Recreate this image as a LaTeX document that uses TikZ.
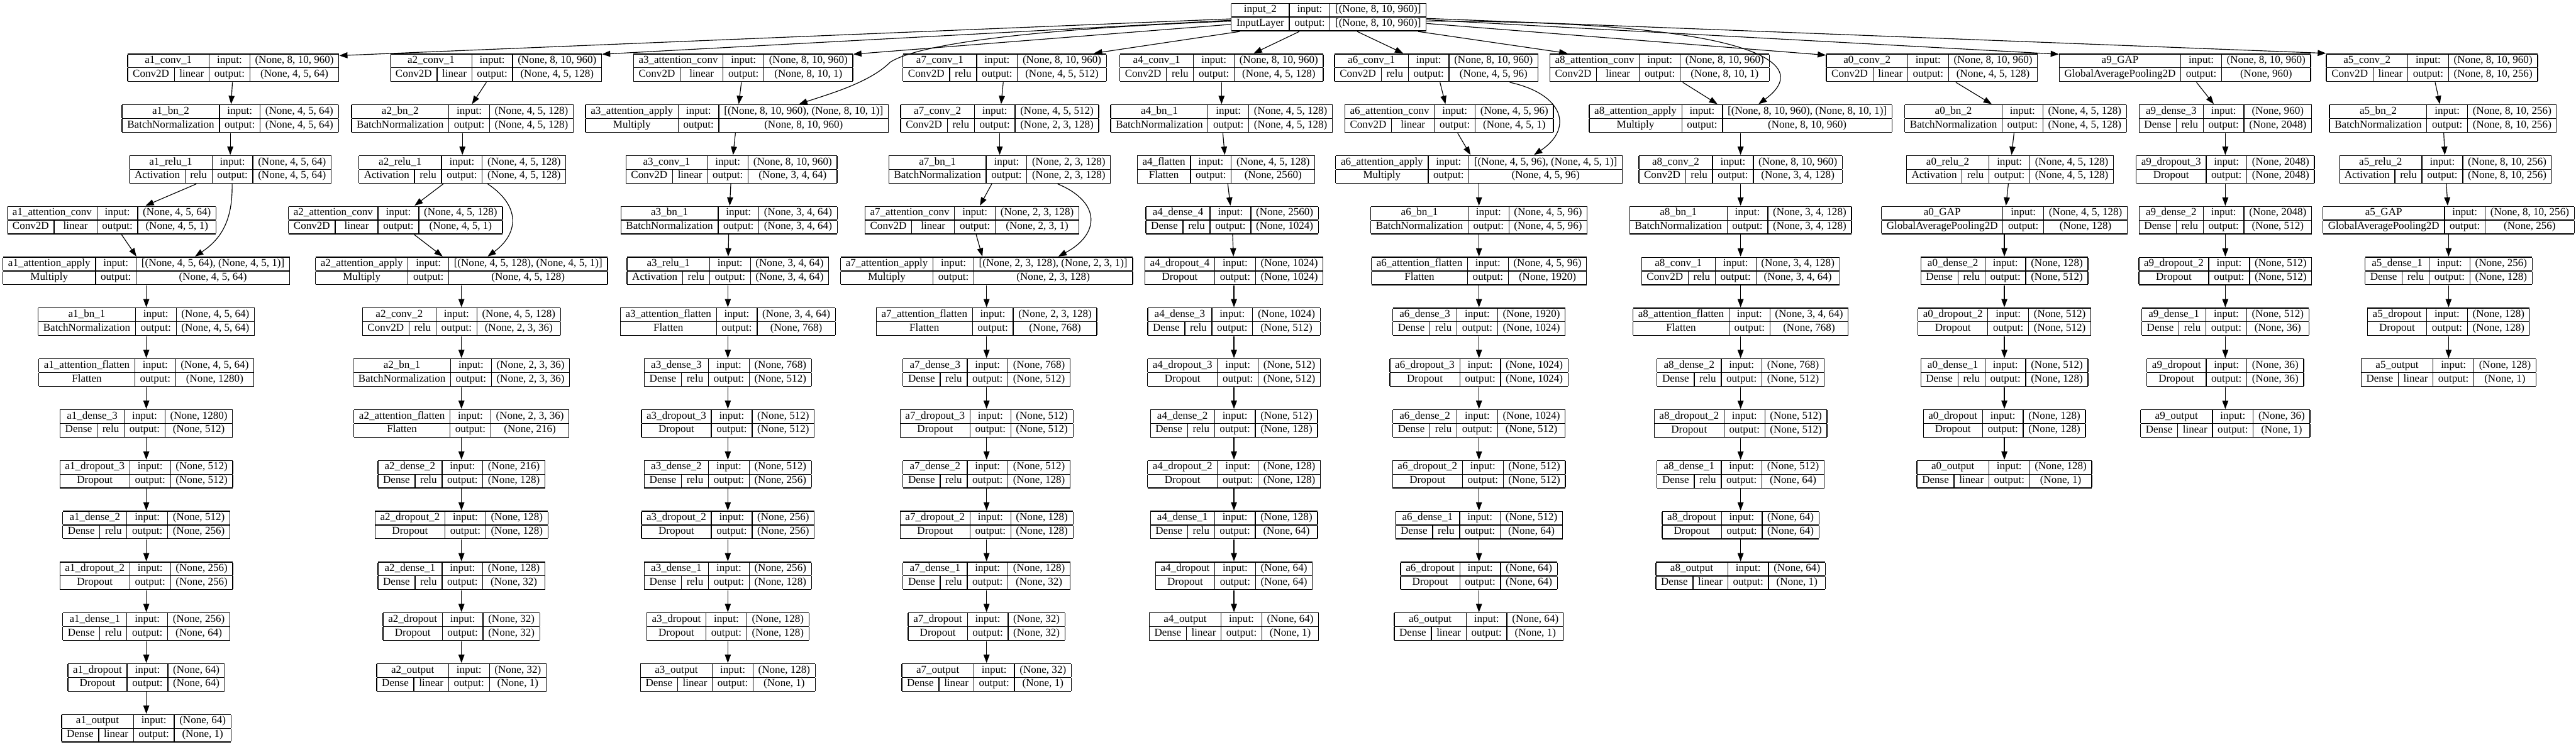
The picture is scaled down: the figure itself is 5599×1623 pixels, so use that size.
\documentclass[tikz,border=0pt]{standalone}
\usepackage{fontspec}
\setmainfont{Liberation Serif}
\usetikzlibrary{positioning,arrows.meta,calc}

\setlength{\tabcolsep}{3.2pt}
\setlength{\arrayrulewidth}{0.5pt}
\renewcommand{\arraystretch}{0}
\newcommand{\rowstrut}{\rule[-2.6pt]{0pt}{8pt}}
% layer with an activation cell
\newcommand{\actlayer}[5]{%
  \begin{tabular}{|c|c|c|c|}\hline
  \multicolumn{2}{|c|}{\rowstrut#1} & input: & #4\\\hline
  \rowstrut#2 & #3 & output: & #5\\\hline
  \end{tabular}}
% layer without activation
\newcommand{\plainlayer}[4]{%
  \begin{tabular}{|c|c|c|}\hline
  \rowstrut#1 & input: & #3\\\hline
  \rowstrut#2 & output: & #4\\\hline
  \end{tabular}}

\begin{document}
\begin{tikzpicture}[
  x=0.01cm, y=0.01cm,
  node distance=1.104cm,
  every node/.style={inner sep=0pt, font=\fontsize{6.63pt}{8pt}\selectfont},
  every path/.style={line width=0.45pt, -{Triangle[length=5.1pt, width=3.7pt]}}
]
\useasboundingbox (0,0) rectangle (5599,-1623);

\node (input2) at (2888,-37) {\plainlayer{input\_2}{InputLayer}{[(None, 8, 10, 960)]}{[(None, 8, 10, 960)]}};

% a1
\node (a1conv1) at (507,-147.4) {\actlayer{a1\_conv\_1}{Conv2D}{linear}{(None, 8, 10, 960)}{(None, 4, 5, 64)}};
\node (a1bn2) at (500.5,-257.8) {\plainlayer{a1\_bn\_2}{BatchNormalization}{(None, 4, 5, 64)}{(None, 4, 5, 64)}};
\node (a1relu1) [below of=a1bn2] {\actlayer{a1\_relu\_1}{Activation}{relu}{(None, 4, 5, 64)}{(None, 4, 5, 64)}};
\node (a1attconv) at (242.8,-478.6) {\actlayer{a1\_attention\_conv}{Conv2D}{linear}{(None, 4, 5, 64)}{(None, 4, 5, 1)}};
\node (a1attapply) at (318,-589) {\plainlayer{a1\_attention\_apply}{Multiply}{[(None, 4, 5, 64), (None, 4, 5, 1)]}{(None, 4, 5, 64)}};
\node (a1bn1) [below of=a1attapply] {\plainlayer{a1\_bn\_1}{BatchNormalization}{(None, 4, 5, 64)}{(None, 4, 5, 64)}};
\node (a1attflatten) [below of=a1bn1] {\plainlayer{a1\_attention\_flatten}{Flatten}{(None, 4, 5, 64)}{(None, 1280)}};
\node (a1dense3) [below of=a1attflatten] {\actlayer{a1\_dense\_3}{Dense}{relu}{(None, 1280)}{(None, 512)}};
\node (a1dropout3) [below of=a1dense3] {\plainlayer{a1\_dropout\_3}{Dropout}{(None, 512)}{(None, 512)}};
\node (a1dense2) [below of=a1dropout3] {\actlayer{a1\_dense\_2}{Dense}{relu}{(None, 512)}{(None, 256)}};
\node (a1dropout2) [below of=a1dense2] {\plainlayer{a1\_dropout\_2}{Dropout}{(None, 256)}{(None, 256)}};
\node (a1dense1) [below of=a1dropout2] {\actlayer{a1\_dense\_1}{Dense}{relu}{(None, 256)}{(None, 64)}};
\node (a1dropout) [below of=a1dense1] {\plainlayer{a1\_dropout}{Dropout}{(None, 64)}{(None, 64)}};
\node (a1output) [below of=a1dropout] {\actlayer{a1\_output}{Dense}{linear}{(None, 64)}{(None, 1)}};

% a2
\node (a2conv1) at (1078,-147.4) {\actlayer{a2\_conv\_1}{Conv2D}{linear}{(None, 8, 10, 960)}{(None, 4, 5, 128)}};
\node (a2bn2) at (1005,-257.8) {\plainlayer{a2\_bn\_2}{BatchNormalization}{(None, 4, 5, 128)}{(None, 4, 5, 128)}};
\node (a2relu1) [below of=a2bn2] {\actlayer{a2\_relu\_1}{Activation}{relu}{(None, 4, 5, 128)}{(None, 4, 5, 128)}};
\node (a2attconv) at (859.5,-478.6) {\actlayer{a2\_attention\_conv}{Conv2D}{linear}{(None, 4, 5, 128)}{(None, 4, 5, 1)}};
\node (a2attapply) at (1003,-589) {\plainlayer{a2\_attention\_apply}{Multiply}{[(None, 4, 5, 128), (None, 4, 5, 1)]}{(None, 4, 5, 128)}};
\node (a2conv2) [below of=a2attapply] {\actlayer{a2\_conv\_2}{Conv2D}{relu}{(None, 4, 5, 128)}{(None, 2, 3, 36)}};
\node (a2bn1) [below of=a2conv2] {\plainlayer{a2\_bn\_1}{BatchNormalization}{(None, 2, 3, 36)}{(None, 2, 3, 36)}};
\node (a2attflatten) [below of=a2bn1] {\plainlayer{a2\_attention\_flatten}{Flatten}{(None, 2, 3, 36)}{(None, 216)}};
\node (a2dense2) [below of=a2attflatten] {\actlayer{a2\_dense\_2}{Dense}{relu}{(None, 216)}{(None, 128)}};
\node (a2dropout2) [below of=a2dense2] {\plainlayer{a2\_dropout\_2}{Dropout}{(None, 128)}{(None, 128)}};
\node (a2dense1) [below of=a2dropout2] {\actlayer{a2\_dense\_1}{Dense}{relu}{(None, 128)}{(None, 32)}};
\node (a2dropout) [below of=a2dense1] {\plainlayer{a2\_dropout}{Dropout}{(None, 32)}{(None, 32)}};
\node (a2output) [below of=a2dropout] {\actlayer{a2\_output}{Dense}{linear}{(None, 32)}{(None, 1)}};

% a3
\node (a3attconv) at (1615.3,-147.4) {\actlayer{a3\_attention\_conv}{Conv2D}{linear}{(None, 8, 10, 960)}{(None, 8, 10, 1)}};
\node (a3attapply) at (1601.8,-257.8) {\plainlayer{a3\_attention\_apply}{Multiply}{[(None, 8, 10, 960), (None, 8, 10, 1)]}{(None, 8, 10, 960)}};
\node (a3conv1) at (1590,-368.2) {\actlayer{a3\_conv\_1}{Conv2D}{linear}{(None, 8, 10, 960)}{(None, 3, 4, 64)}};
\node (a3bn1) at (1584.5,-478.6) {\plainlayer{a3\_bn\_1}{BatchNormalization}{(None, 3, 4, 64)}{(None, 3, 4, 64)}};
\node (a3relu1) at (1582,-589) {\actlayer{a3\_relu\_1}{Activation}{relu}{(None, 3, 4, 64)}{(None, 3, 4, 64)}};
\node (a3attflatten) [below of=a3relu1] {\plainlayer{a3\_attention\_flatten}{Flatten}{(None, 3, 4, 64)}{(None, 768)}};
\node (a3dense3) [below of=a3attflatten] {\actlayer{a3\_dense\_3}{Dense}{relu}{(None, 768)}{(None, 512)}};
\node (a3dropout3) [below of=a3dense3] {\plainlayer{a3\_dropout\_3}{Dropout}{(None, 512)}{(None, 512)}};
\node (a3dense2) [below of=a3dropout3] {\actlayer{a3\_dense\_2}{Dense}{relu}{(None, 512)}{(None, 256)}};
\node (a3dropout2) [below of=a3dense2] {\plainlayer{a3\_dropout\_2}{Dropout}{(None, 256)}{(None, 256)}};
\node (a3dense1) [below of=a3dropout2] {\actlayer{a3\_dense\_1}{Dense}{relu}{(None, 256)}{(None, 128)}};
\node (a3dropout) [below of=a3dense1] {\plainlayer{a3\_dropout}{Dropout}{(None, 128)}{(None, 128)}};
\node (a3output) [below of=a3dropout] {\actlayer{a3\_output}{Dense}{linear}{(None, 128)}{(None, 1)}};

% a7
\node (a7conv1) at (2183.7,-147.4) {\actlayer{a7\_conv\_1}{Conv2D}{relu}{(None, 8, 10, 960)}{(None, 4, 5, 512)}};
\node (a7conv2) at (2172.8,-257.8) {\actlayer{a7\_conv\_2}{Conv2D}{relu}{(None, 4, 5, 512)}{(None, 2, 3, 128)}};
\node (a7bn1) [below of=a7conv2] {\plainlayer{a7\_bn\_1}{BatchNormalization}{(None, 2, 3, 128)}{(None, 2, 3, 128)}};
\node (a7attconv) at (2112.6,-478.6) {\actlayer{a7\_attention\_conv}{Conv2D}{linear}{(None, 2, 3, 128)}{(None, 2, 3, 1)}};
\node (a7attapply) at (2144.3,-589) {\plainlayer{a7\_attention\_apply}{Multiply}{[(None, 2, 3, 128), (None, 2, 3, 1)]}{(None, 2, 3, 128)}};
\node (a7attflatten) [below of=a7attapply] {\plainlayer{a7\_attention\_flatten}{Flatten}{(None, 2, 3, 128)}{(None, 768)}};
\node (a7dense3) [below of=a7attflatten] {\actlayer{a7\_dense\_3}{Dense}{relu}{(None, 768)}{(None, 512)}};
\node (a7dropout3) [below of=a7dense3] {\plainlayer{a7\_dropout\_3}{Dropout}{(None, 512)}{(None, 512)}};
\node (a7dense2) [below of=a7dropout3] {\actlayer{a7\_dense\_2}{Dense}{relu}{(None, 512)}{(None, 128)}};
\node (a7dropout2) [below of=a7dense2] {\plainlayer{a7\_dropout\_2}{Dropout}{(None, 128)}{(None, 128)}};
\node (a7dense1) [below of=a7dropout2] {\actlayer{a7\_dense\_1}{Dense}{relu}{(None, 128)}{(None, 32)}};
\node (a7dropout) [below of=a7dense1] {\plainlayer{a7\_dropout}{Dropout}{(None, 32)}{(None, 32)}};
\node (a7output) [below of=a7dropout] {\actlayer{a7\_output}{Dense}{linear}{(None, 32)}{(None, 1)}};

% a4
\node (a4conv1) at (2655,-147.4) {\actlayer{a4\_conv\_1}{Conv2D}{relu}{(None, 8, 10, 960)}{(None, 4, 5, 128)}};
\node (a4bn1) [below of=a4conv1] {\plainlayer{a4\_bn\_1}{BatchNormalization}{(None, 4, 5, 128)}{(None, 4, 5, 128)}};
\node (a4flatten) at (2664.9,-368.2) {\plainlayer{a4\_flatten}{Flatten}{(None, 4, 5, 128)}{(None, 2560)}};
\node (a4dense4) at (2678,-478.6) {\actlayer{a4\_dense\_4}{Dense}{relu}{(None, 2560)}{(None, 1024)}};
\node (a4dropout4) at (2682,-589) {\plainlayer{a4\_dropout\_4}{Dropout}{(None, 1024)}{(None, 1024)}};
\node (a4dense3) [below of=a4dropout4] {\actlayer{a4\_dense\_3}{Dense}{relu}{(None, 1024)}{(None, 512)}};
\node (a4dropout3) [below of=a4dense3] {\plainlayer{a4\_dropout\_3}{Dropout}{(None, 512)}{(None, 512)}};
\node (a4dense2) [below of=a4dropout3] {\actlayer{a4\_dense\_2}{Dense}{relu}{(None, 512)}{(None, 128)}};
\node (a4dropout2) [below of=a4dense2] {\plainlayer{a4\_dropout\_2}{Dropout}{(None, 128)}{(None, 128)}};
\node (a4dense1) [below of=a4dropout2] {\actlayer{a4\_dense\_1}{Dense}{relu}{(None, 128)}{(None, 64)}};
\node (a4dropout) [below of=a4dense1] {\plainlayer{a4\_dropout}{Dropout}{(None, 64)}{(None, 64)}};
\node (a4output) [below of=a4dropout] {\actlayer{a4\_output}{Dense}{linear}{(None, 64)}{(None, 1)}};

% a6
\node (a6conv1) at (3121.8,-147.4) {\actlayer{a6\_conv\_1}{Conv2D}{relu}{(None, 8, 10, 960)}{(None, 4, 5, 96)}};
\node (a6attconv) at (3149.7,-257.8) {\actlayer{a6\_attention\_conv}{Conv2D}{linear}{(None, 4, 5, 96)}{(None, 4, 5, 1)}};
\node (a6attapply) at (3214.6,-368.2) {\plainlayer{a6\_attention\_apply}{Multiply}{[(None, 4, 5, 96), (None, 4, 5, 1)]}{(None, 4, 5, 96)}};
\node (a6bn1) [below of=a6attapply] {\plainlayer{a6\_bn\_1}{BatchNormalization}{(None, 4, 5, 96)}{(None, 4, 5, 96)}};
\node (a6attflatten) [below of=a6bn1] {\plainlayer{a6\_attention\_flatten}{Flatten}{(None, 4, 5, 96)}{(None, 1920)}};
\node (a6dense3) [below of=a6attflatten] {\actlayer{a6\_dense\_3}{Dense}{relu}{(None, 1920)}{(None, 1024)}};
\node (a6dropout3) [below of=a6dense3] {\plainlayer{a6\_dropout\_3}{Dropout}{(None, 1024)}{(None, 1024)}};
\node (a6dense2) [below of=a6dropout3] {\actlayer{a6\_dense\_2}{Dense}{relu}{(None, 1024)}{(None, 512)}};
\node (a6dropout2) [below of=a6dense2] {\plainlayer{a6\_dropout\_2}{Dropout}{(None, 512)}{(None, 512)}};
\node (a6dense1) [below of=a6dropout2] {\actlayer{a6\_dense\_1}{Dense}{relu}{(None, 512)}{(None, 64)}};
\node (a6dropout) [below of=a6dense1] {\plainlayer{a6\_dropout}{Dropout}{(None, 64)}{(None, 64)}};
\node (a6output) [below of=a6dropout] {\actlayer{a6\_output}{Dense}{linear}{(None, 64)}{(None, 1)}};

% a8
\node (a8attconv) at (3607,-147.4) {\actlayer{a8\_attention\_conv}{Conv2D}{linear}{(None, 8, 10, 960)}{(None, 8, 10, 1)}};
\node (a8attapply) at (3783.2,-257.8) {\plainlayer{a8\_attention\_apply}{Multiply}{[(None, 8, 10, 960), (None, 8, 10, 1)]}{(None, 8, 10, 960)}};
\node (a8conv2) [below of=a8attapply] {\actlayer{a8\_conv\_2}{Conv2D}{relu}{(None, 8, 10, 960)}{(None, 3, 4, 128)}};
\node (a8bn1) [below of=a8conv2] {\plainlayer{a8\_bn\_1}{BatchNormalization}{(None, 3, 4, 128)}{(None, 3, 4, 128)}};
\node (a8conv1) [below of=a8bn1] {\actlayer{a8\_conv\_1}{Conv2D}{relu}{(None, 3, 4, 128)}{(None, 3, 4, 64)}};
\node (a8attflatten) [below of=a8conv1] {\plainlayer{a8\_attention\_flatten}{Flatten}{(None, 3, 4, 64)}{(None, 768)}};
\node (a8dense2) [below of=a8attflatten] {\actlayer{a8\_dense\_2}{Dense}{relu}{(None, 768)}{(None, 512)}};
\node (a8dropout2) [below of=a8dense2] {\plainlayer{a8\_dropout\_2}{Dropout}{(None, 512)}{(None, 512)}};
\node (a8dense1) [below of=a8dropout2] {\actlayer{a8\_dense\_1}{Dense}{relu}{(None, 512)}{(None, 64)}};
\node (a8dropout) [below of=a8dense1] {\plainlayer{a8\_dropout}{Dropout}{(None, 64)}{(None, 64)}};
\node (a8output) [below of=a8dropout] {\actlayer{a8\_output}{Dense}{linear}{(None, 64)}{(None, 1)}};

% a0
\node (a0conv2) at (4199,-147.4) {\actlayer{a0\_conv\_2}{Conv2D}{linear}{(None, 8, 10, 960)}{(None, 4, 5, 128)}};
\node (a0bn2) at (4381,-257.8) {\plainlayer{a0\_bn\_2}{BatchNormalization}{(None, 4, 5, 128)}{(None, 4, 5, 128)}};
\node (a0relu2) at (4368.6,-368.2) {\actlayer{a0\_relu\_2}{Activation}{relu}{(None, 4, 5, 128)}{(None, 4, 5, 128)}};
\node (a0GAP) at (4356.5,-478.6) {\plainlayer{a0\_GAP}{GlobalAveragePooling2D}{(None, 4, 5, 128)}{(None, 128)}};
\node (a0dense2) [below of=a0GAP] {\actlayer{a0\_dense\_2}{Dense}{relu}{(None, 128)}{(None, 512)}};
\node (a0dropout2) [below of=a0dense2] {\plainlayer{a0\_dropout\_2}{Dropout}{(None, 512)}{(None, 512)}};
\node (a0dense1) [below of=a0dropout2] {\actlayer{a0\_dense\_1}{Dense}{relu}{(None, 512)}{(None, 128)}};
\node (a0dropout) [below of=a0dense1] {\plainlayer{a0\_dropout}{Dropout}{(None, 128)}{(None, 128)}};
\node (a0output) [below of=a0dropout] {\actlayer{a0\_output}{Dense}{linear}{(None, 128)}{(None, 1)}};

% a9
\node (a9GAP) at (4749,-147.4) {\plainlayer{a9\_GAP}{GlobalAveragePooling2D}{(None, 8, 10, 960)}{(None, 960)}};
\node (a9dense3) at (4836.7,-257.8) {\actlayer{a9\_dense\_3}{Dense}{relu}{(None, 960)}{(None, 2048)}};
\node (a9dropout3) [below of=a9dense3] {\plainlayer{a9\_dropout\_3}{Dropout}{(None, 2048)}{(None, 2048)}};
\node (a9dense2) [below of=a9dropout3] {\actlayer{a9\_dense\_2}{Dense}{relu}{(None, 2048)}{(None, 512)}};
\node (a9dropout2) [below of=a9dense2] {\plainlayer{a9\_dropout\_2}{Dropout}{(None, 512)}{(None, 512)}};
\node (a9dense1) [below of=a9dropout2] {\actlayer{a9\_dense\_1}{Dense}{relu}{(None, 512)}{(None, 36)}};
\node (a9dropout) [below of=a9dense1] {\plainlayer{a9\_dropout}{Dropout}{(None, 36)}{(None, 36)}};
\node (a9output) [below of=a9dropout] {\actlayer{a9\_output}{Dense}{linear}{(None, 36)}{(None, 1)}};

% a5
\node (a5conv2) at (5285.9,-147.4) {\actlayer{a5\_conv\_2}{Conv2D}{linear}{(None, 8, 10, 960)}{(None, 8, 10, 256)}};
\node (a5bn2) at (5310,-257.8) {\plainlayer{a5\_bn\_2}{BatchNormalization}{(None, 8, 10, 256)}{(None, 8, 10, 256)}};
\node (a5relu2) at (5315.3,-368.2) {\actlayer{a5\_relu\_2}{Activation}{relu}{(None, 8, 10, 256)}{(None, 8, 10, 256)}};
\node (a5GAP) at (5322,-478.6) {\plainlayer{a5\_GAP}{GlobalAveragePooling2D}{(None, 8, 10, 256)}{(None, 256)}};
\node (a5dense1) [below of=a5GAP] {\actlayer{a5\_dense\_1}{Dense}{relu}{(None, 256)}{(None, 128)}};
\node (a5dropout) [below of=a5dense1] {\plainlayer{a5\_dropout}{Dropout}{(None, 128)}{(None, 128)}};
\node (a5output) [below of=a5dropout] {\actlayer{a5\_output}{Dense}{linear}{(None, 128)}{(None, 1)}};

% edges from the input
\draw ($(input2.west)+(0,-4)$) -- ($(a1conv1.north east)+(0,-5)$);
\draw ($(input2.west)+(0,-7)$) -- ($(a2conv1.north east)+(0,-2)$);
\draw ($(input2.west)+(0,-9)$) .. controls (2200,-65) and (1990,-100) .. (1935,-135) .. controls (1890,-180) and (1800,-205) .. ($(a3attapply.north)+(135,0)$);
\draw ($(input2.west)+(0,-16)$) -- ($(a3attconv.north east)+(0,-2)$);
\draw ($(input2.south west)+(19,0)$) -- ($(a7conv1.north east)+(-28,0)$);
\draw ($(input2.south)+(-64,0)$) -- ($(a4conv1.north)+(70,0)$);
\draw ($(input2.south)+(62,0)$) -- ($(a6conv1.north)+(-72,0)$);
\draw ($(input2.south east)+(-18,0)$) -- ($(a8attconv.north west)+(39,0)$);
\draw ($(input2.east)+(0,-9)$) .. controls (3750,-45) and (3960,-125) .. ($(a8attapply.north)+(39,0)$);
\draw ($(input2.east)+(0,-14)$) -- ($(a0conv2.north west)+(0,-4)$);
\draw ($(input2.east)+(0,-6)$) -- ($(a9GAP.north west)+(0,-2)$);
\draw ($(input2.east)+(0,-3)$) -- (a5conv2.north west);

% a1 edges
\draw (a1conv1) -- (a1bn2);
\draw (a1bn2) -- (a1relu1);
\draw (a1relu1) -- (a1attconv);
\draw (a1attconv) -- (a1attapply);
\draw ($(a1relu1.south)+(4,0)$) .. controls (506,-480) and (480,-520) .. ($(a1attapply.north)+(106,0)$);
\draw (a1attapply) -- (a1bn1);
\draw (a1bn1) -- (a1attflatten);
\draw (a1attflatten) -- (a1dense3);
\draw (a1dense3) -- (a1dropout3);
\draw (a1dropout3) -- (a1dense2);
\draw (a1dense2) -- (a1dropout2);
\draw (a1dropout2) -- (a1dense1);
\draw (a1dense1) -- (a1dropout);
\draw (a1dropout) -- (a1output);

% a2 edges
\draw (a2conv1) -- (a2bn2);
\draw (a2bn2) -- (a2relu1);
\draw (a2relu1) -- (a2attconv);
\draw (a2attconv) -- (a2attapply);
\draw ($(a2relu1.south)+(55,0)$) .. controls (1135,-450) and (1125,-510) .. ($(a2attapply.north)+(57,0)$);
\draw (a2attapply) -- (a2conv2);
\draw (a2conv2) -- (a2bn1);
\draw (a2bn1) -- (a2attflatten);
\draw (a2attflatten) -- (a2dense2);
\draw (a2dense2) -- (a2dropout2);
\draw (a2dropout2) -- (a2dense1);
\draw (a2dense1) -- (a2dropout);
\draw (a2dropout) -- (a2output);

% a3 edges
\draw (a3attconv) -- (a3attapply);
\draw (a3attapply) -- (a3conv1);
\draw (a3conv1) -- (a3bn1);
\draw (a3bn1) -- (a3relu1);
\draw (a3relu1) -- (a3attflatten);
\draw (a3attflatten) -- (a3dense3);
\draw (a3dense3) -- (a3dropout3);
\draw (a3dropout3) -- (a3dense2);
\draw (a3dense2) -- (a3dropout2);
\draw (a3dropout2) -- (a3dense1);
\draw (a3dense1) -- (a3dropout);
\draw (a3dropout) -- (a3output);

% a7 edges
\draw (a7conv1) -- (a7conv2);
\draw (a7conv2) -- (a7bn1);
\draw (a7bn1) -- (a7attconv);
\draw (a7attconv) -- (a7attapply);
\draw ($(a7bn1.south)+(126,0)$) .. controls (2395,-440) and (2390,-510) .. ($(a7attapply.north)+(156,0)$);
\draw (a7attapply) -- (a7attflatten);
\draw (a7attflatten) -- (a7dense3);
\draw (a7dense3) -- (a7dropout3);
\draw (a7dropout3) -- (a7dense2);
\draw (a7dense2) -- (a7dropout2);
\draw (a7dropout2) -- (a7dense1);
\draw (a7dense1) -- (a7dropout);
\draw (a7dropout) -- (a7output);

% a4 edges
\draw (a4conv1) -- (a4bn1);
\draw (a4bn1) -- (a4flatten);
\draw (a4flatten) -- (a4dense4);
\draw (a4dense4) -- (a4dropout4);
\draw (a4dropout4) -- (a4dense3);
\draw (a4dense3) -- (a4dropout3);
\draw (a4dropout3) -- (a4dense2);
\draw (a4dense2) -- (a4dropout2);
\draw (a4dropout2) -- (a4dense1);
\draw (a4dense1) -- (a4dropout);
\draw (a4dropout) -- (a4output);

% a6 edges
\draw (a6conv1) -- (a6attconv);
\draw (a6attconv) -- (a6attapply);
\draw ($(a6conv1.south)+(159.5,0)$) .. controls (3400,-205) and (3420,-280) .. ($(a6attapply.north)+(119.6,0)$);
\draw (a6attapply) -- (a6bn1);
\draw (a6bn1) -- (a6attflatten);
\draw (a6attflatten) -- (a6dense3);
\draw (a6dense3) -- (a6dropout3);
\draw (a6dropout3) -- (a6dense2);
\draw (a6dense2) -- (a6dropout2);
\draw (a6dropout2) -- (a6dense1);
\draw (a6dense1) -- (a6dropout);
\draw (a6dropout) -- (a6output);

% a8 edges
\draw (a8attconv) -- (a8attapply);
\draw (a8attapply) -- (a8conv2);
\draw (a8conv2) -- (a8bn1);
\draw (a8bn1) -- (a8conv1);
\draw (a8conv1) -- (a8attflatten);
\draw (a8attflatten) -- (a8dense2);
\draw (a8dense2) -- (a8dropout2);
\draw (a8dropout2) -- (a8dense1);
\draw (a8dense1) -- (a8dropout);
\draw (a8dropout) -- (a8output);

% a0 edges
\draw (a0conv2) -- (a0bn2);
\draw (a0bn2) -- (a0relu2);
\draw (a0relu2) -- (a0GAP);
\draw (a0GAP) -- (a0dense2);
\draw (a0dense2) -- (a0dropout2);
\draw (a0dropout2) -- (a0dense1);
\draw (a0dense1) -- (a0dropout);
\draw (a0dropout) -- (a0output);

% a9 edges
\draw (a9GAP) -- (a9dense3);
\draw (a9dense3) -- (a9dropout3);
\draw (a9dropout3) -- (a9dense2);
\draw (a9dense2) -- (a9dropout2);
\draw (a9dropout2) -- (a9dense1);
\draw (a9dense1) -- (a9dropout);
\draw (a9dropout) -- (a9output);

% a5 edges
\draw (a5conv2) -- (a5bn2);
\draw (a5bn2) -- (a5relu2);
\draw (a5relu2) -- (a5GAP);
\draw (a5GAP) -- (a5dense1);
\draw (a5dense1) -- (a5dropout);
\draw (a5dropout) -- (a5output);
\end{tikzpicture}
\end{document}
